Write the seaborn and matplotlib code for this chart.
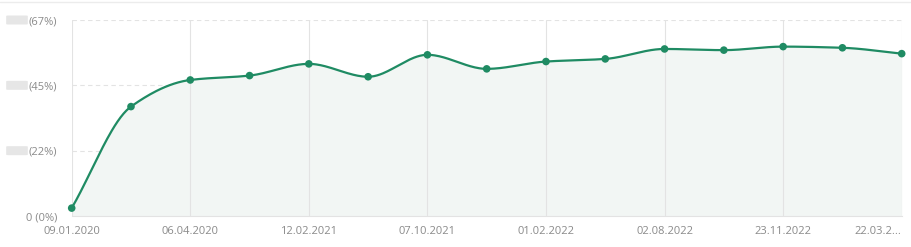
import numpy as np
import pandas as pd
import matplotlib
matplotlib.use("Agg")
import matplotlib.pyplot as plt
import seaborn as sns
from matplotlib.patches import FancyBboxPatch
from matplotlib.lines import Line2D

# ---- data ----
point_index = list(range(15))
share_pct = [2.7, 37.4, 46.5, 48.0, 52.0, 47.6, 55.1, 50.3, 52.8, 53.7,
             57.1, 56.7, 57.9, 57.5, 55.5]
tick_positions = [0, 2, 4, 6, 8, 10, 12, 14]
tick_labels = ["09.01.2020", "06.04.2020", "12.02.2021", "07.10.2021",
               "01.02.2022", "02.08.2022", "23.11.2022", "22.03.2..."]
y_ticks = [0, 67 / 3, 2 * 67 / 3, 67]
y_tick_labels = ["0 (0%)", "(22%)", "(45%)", "(67%)"]

LINE = "#1f8b63"
FILL = "#f2f6f4"
GRID = "#e3e3e3"
TXT = "#8a8a8a"

df = pd.DataFrame({"idx": point_index, "pct": share_pct})


def monotone_curve(x, y, n=40):
    x = np.asarray(x, float)
    y = np.asarray(y, float)
    h = np.diff(x)
    d = np.diff(y) / h
    m = np.zeros_like(y)
    m[0], m[-1] = d[0], d[-1]
    for i in range(1, len(y) - 1):
        if d[i - 1] * d[i] <= 0:
            m[i] = 0.0
        else:
            w1 = 2 * h[i] + h[i - 1]
            w2 = h[i] + 2 * h[i - 1]
            m[i] = (w1 + w2) / (w1 / d[i - 1] + w2 / d[i])
    xs, ys = [], []
    for i in range(len(x) - 1):
        t = np.linspace(0, 1, n, endpoint=(i == len(x) - 2))
        h00 = 2 * t**3 - 3 * t**2 + 1
        h10 = t**3 - 2 * t**2 + t
        h01 = -2 * t**3 + 3 * t**2
        h11 = t**3 - t**2
        xs.append(x[i] + t * h[i])
        ys.append(h00 * y[i] + h10 * h[i] * m[i] + h01 * y[i + 1] + h11 * h[i] * m[i + 1])
    return np.concatenate(xs), np.concatenate(ys)


sns.set_theme(style="white")
plt.rcParams["font.family"] = ["Open Sans", "DejaVu Sans"]

fig = plt.figure(figsize=(9.11, 2.47), dpi=100)
ax = fig.add_axes([71.7 / 911, 1 - 216 / 247, (901.7 - 71.7) / 911, (216 - 20) / 247])

cx, cy = monotone_curve(df["idx"], df["pct"])
ax.fill_between(cx, 0, cy, color=FILL, zorder=1, linewidth=0)
smooth = pd.DataFrame({"idx": cx, "pct": cy})
sns.lineplot(data=smooth, x="idx", y="pct", ax=ax, color=LINE, linewidth=1.6,
             zorder=4, sort=False)
sns.scatterplot(data=df, x="idx", y="pct", ax=ax, color=LINE, s=30,
                edgecolor="none", zorder=5, clip_on=False)

ax.set_xlim(0, 14)
ax.set_ylim(0, 67)

# grid
for yv in y_ticks[1:]:
    ax.axhline(yv, color=GRID, linewidth=0.8, linestyle=(0, (4, 3)), zorder=0)
for xv in tick_positions:
    ax.axvline(xv, color=GRID, linewidth=0.8, zorder=2)

for s in ["top", "right", "left"]:
    ax.spines[s].set_visible(False)
ax.spines["bottom"].set_color(GRID)
ax.spines["bottom"].set_linewidth(0.8)

ax.set_xticks(tick_positions)
ax.set_xticklabels(tick_labels)
ax.set_yticks(y_ticks)
ax.set_yticklabels(y_tick_labels)
ax.tick_params(axis="both", length=0, colors=TXT, labelsize=8)
ax.tick_params(axis="x", pad=7)
ax.tick_params(axis="y", pad=10.5)
ax.get_xticklabels()[-1].set_horizontalalignment("right")
ax.set_xlabel("")
ax.set_ylabel("")

# blurred numbers in front of percentages
for yv in y_ticks[1:]:
    yfig = (1 - 216 / 247) + yv / 67 * (196 / 247)
    fig.add_artist(FancyBboxPatch((8 / 911, yfig - 4 / 247), 18 / 911, 8 / 247,
                                  boxstyle="round,pad=0.002", transform=fig.transFigure,
                                  facecolor="#e6e6e6", edgecolor="none"))

# top border
fig.add_artist(Line2D([0, 1], [1 - 2 / 247, 1 - 2 / 247], transform=fig.transFigure,
                      color="#ececec", linewidth=1))

fig.savefig("out.png", dpi=100)
